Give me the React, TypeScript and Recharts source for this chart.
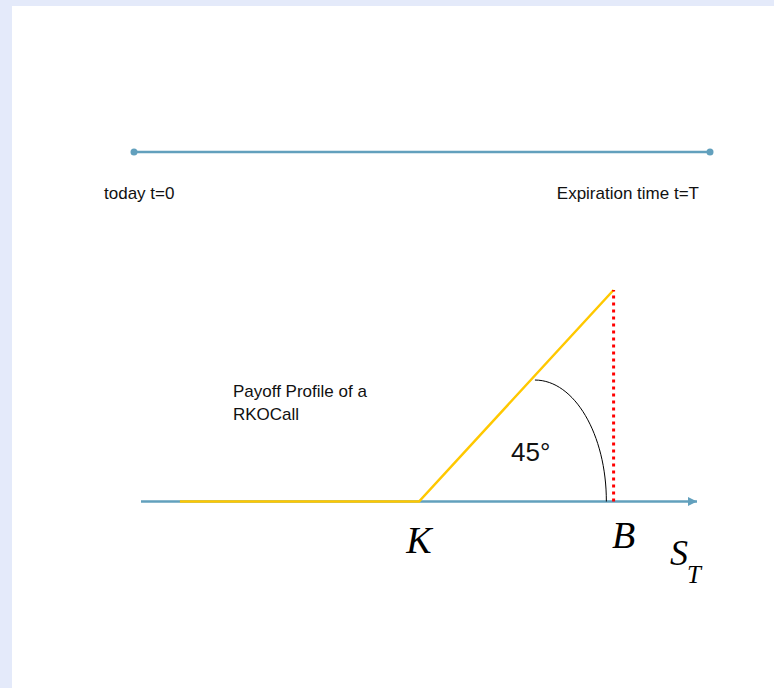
import React from "react";
import { ComposedChart, LineChart, Line, XAxis, YAxis, ReferenceDot } from "recharts";

// time line: today -> expiration
const TIMELINE = [
  { t: 0, level: 1 },
  { t: 1, level: 1 },
];
const TIME_LABELS = ["today t=0", "Expiration time t=T"];

// payoff diagram, underlying price S_T on the x axis
const PRICE_AXIS = [
  { s: 0, payoff: 0 },
  { s: 200, payoff: 0 },
];
const PAYOFF = [
  { s: 14, payoff: 0 },
  { s: 100, payoff: 0 },
  { s: 170, payoff: 70 },
];
const KNOCK_OUT = [
  { s: 170, payoff: 0 },
  { s: 170, payoff: 70 },
];
const ANGLE_ARC = [
  { s: 141.7, payoff: 40.2 },
  { s: 167.4, payoff: 0 },
];
const STRIKE = 100;
const BARRIER = 170;
const AXIS_END = 200;
const TITLE_LINES = ["Payoff Profile of a", "RKOCall"];
const ANGLE_LABEL = "45°";

const BLUE = "#62a0bd";
const GOLD = "#ffc800";
const RED = "#ff0000";
const SANS = "'Liberation Sans', Arial, sans-serif";
const SERIF = "'Liberation Serif', 'Times New Roman', serif";

// quarter ellipse from the top point to the right point (cubic bezier approximation)
const quarterArc = (context: any) => {
  let pts: number[][] = [];
  return {
    areaStart() {},
    areaEnd() {},
    lineStart() {
      pts = [];
    },
    lineEnd() {
      if (pts.length < 2) return;
      const [a, b] = pts;
      const k = 0.5523;
      context.moveTo(a[0], a[1]);
      context.bezierCurveTo(a[0] + k * (b[0] - a[0]), a[1], b[0], b[1] - k * (b[1] - a[1]), b[0], b[1]);
    },
    point(x: number, y: number) {
      pts.push([x, y]);
    },
  };
};

const textShape =
  (text: string, dx: number, dy: number, style: any, anchor = "start") =>
  (p: any) =>
    (
      <text x={p.cx + dx} y={p.cy + dy} textAnchor={anchor} {...style}>
        {text}
      </text>
    );

const arrowHead = (p: any) => (
  <path d={`M${p.cx},${p.cy} L${p.cx - 9},${p.cy - 4.5} L${p.cx - 9},${p.cy + 4.5} Z`} fill={BLUE} />
);

const sansText = { fontFamily: SANS, fontSize: 17, fill: "#111" };
const serifText = { fontFamily: SERIF, fontStyle: "italic", fill: "#000" };

export default function App() {
  return (
    <div style={{ position: "relative", width: 774, height: 688, background: "#e4eafa", overflow: "hidden" }}>
      <style>{"body{margin:0}"}</style>
      <div style={{ position: "absolute", left: 12, top: 6, width: 762, height: 682, background: "#fff" }}>
        <div style={{ position: "absolute", left: 0, top: 85.5 }}>
          <LineChart width={762} height={120} margin={{ top: 0, right: 64, bottom: 0, left: 122 }}>
            <XAxis dataKey="t" type="number" domain={[0, 1]} hide />
            <YAxis type="number" domain={[0, 2]} hide />
            <Line
              data={TIMELINE}
              dataKey="level"
              stroke={BLUE}
              strokeWidth={2.5}
              dot={{ r: 3.5, fill: BLUE, stroke: BLUE, strokeWidth: 0 }}
              isAnimationActive={false}
            />
            <ReferenceDot x={0} y={1} r={0} shape={textShape(TIME_LABELS[0], -30, 46.5, sansText)} />
            <ReferenceDot x={1} y={1} r={0} shape={textShape(TIME_LABELS[1], -11, 46.5, sansText, "end")} />
          </LineChart>
        </div>
        <div style={{ position: "absolute", left: 0, top: 244 }}>
          <ComposedChart width={762} height={438} margin={{ top: 40, right: 77, bottom: 186.5, left: 129 }}>
            <XAxis dataKey="s" type="number" domain={[0, AXIS_END]} hide />
            <YAxis type="number" domain={[0, 70]} hide />
            <Line
              data={PRICE_AXIS}
              dataKey="payoff"
              stroke={BLUE}
              strokeWidth={2.5}
              dot={false}
              isAnimationActive={false}
            />
            <Line
              data={PAYOFF}
              dataKey="payoff"
              type="linear"
              stroke={GOLD}
              strokeWidth={2.5}
              dot={false}
              isAnimationActive={false}
            />
            <Line
              data={KNOCK_OUT}
              dataKey="payoff"
              stroke={RED}
              strokeWidth={3}
              strokeDasharray="3 4"
              dot={false}
              isAnimationActive={false}
            />
            <Line
              data={ANGLE_ARC}
              dataKey="payoff"
              type={quarterArc as any}
              stroke="#000"
              strokeWidth={1}
              dot={false}
              isAnimationActive={false}
            />
            <ReferenceDot x={AXIS_END} y={0} r={0} shape={arrowHead} />
            <ReferenceDot x={0} y={0} r={0} shape={textShape(TITLE_LINES[0], 92, -104.8, sansText)} />
            <ReferenceDot x={0} y={0} r={0} shape={textShape(TITLE_LINES[1], 92, -81.5, sansText)} />
            <ReferenceDot
              x={STRIKE}
              y={0}
              r={0}
              shape={textShape(ANGLE_LABEL, 92, -40.8, { ...sansText, fontSize: 26 })}
            />
            <ReferenceDot
              x={STRIKE}
              y={0}
              r={0}
              shape={textShape("K", 0, 51.5, { ...serifText, fontSize: 38 }, "middle")}
            />
            <ReferenceDot
              x={BARRIER}
              y={0}
              r={0}
              shape={textShape("B", 10, 46.5, { ...serifText, fontSize: 38 }, "middle")}
            />
            <ReferenceDot
              x={AXIS_END}
              y={0}
              r={0}
              shape={(p: any) => (
                <text x={p.cx - 27} y={p.cy + 63.5} fontFamily={SERIF} fontStyle="italic" fill="#000">
                  <tspan fontSize={36}>S</tspan>
                  <tspan fontSize={25} dy={18} dx={-1}>
                    T
                  </tspan>
                </text>
              )}
            />
          </ComposedChart>
        </div>
      </div>
    </div>
  );
}
